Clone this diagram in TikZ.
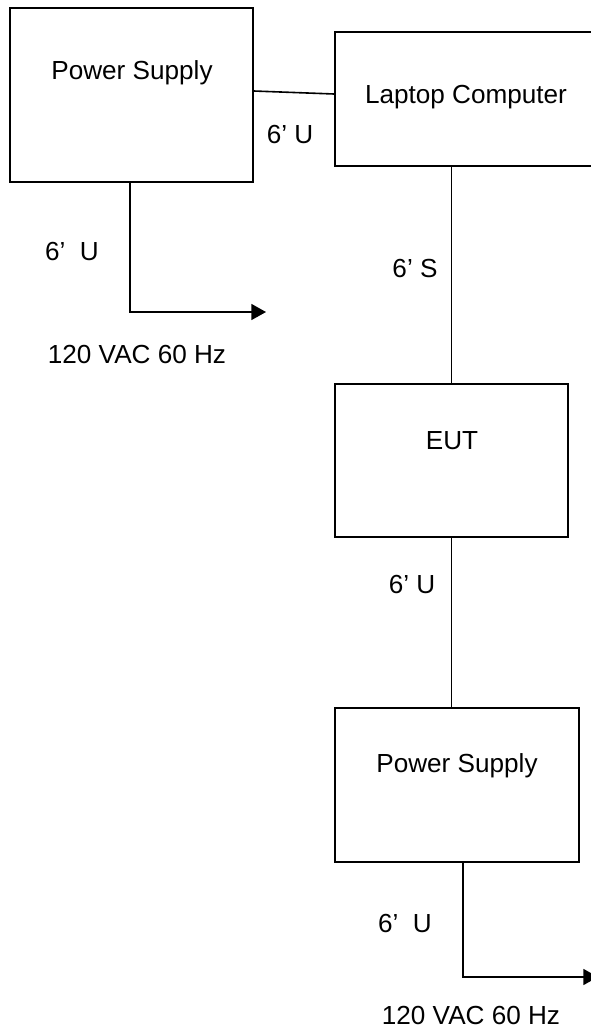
\documentclass[tikz,border=0pt]{standalone}
\usepackage{fontspec}
\setmainfont{Liberation Sans}
\usetikzlibrary{arrows.meta}

\tikzset{every picture/.style={line width=1.2pt}}
\tikzset{
  unitbox/.style={draw, rectangle, inner sep=0pt},
  txt/.style={inner sep=0.75pt, font=\fontsize{19.6}{23}\selectfont},
  feed/.style={-{Triangle[length=11pt,width=12pt]}}
}

\begin{document}
\begin{tikzpicture}[x=0.75pt,y=0.75pt,yscale=-1,xscale=1]
\useasboundingbox (0,0) rectangle (591,1029);

%Shape: Rectangle [id:ps1]
\node [unitbox, minimum width=182.25pt, minimum height=130.5pt] (ps1) at (131.5,95) {};
%Shape: Rectangle [id:lap]
\node [unitbox, minimum width=194.25pt, minimum height=100.5pt] (lap) at (464.5,99) {};
%Shape: Rectangle [id:eut]
\node [unitbox, minimum width=174.75pt, minimum height=114.75pt] (eut) at (451.5,460.5) {};
%Shape: Rectangle [id:ps2]
\node [unitbox, minimum width=183pt, minimum height=115.5pt] (ps2) at (457,785) {};

\coordinate (ac1) at (266,312);
\coordinate (ac2) at (598,977);

%Straight Lines [id:ps1-lap]
\draw ([yshift=-3pt]ps1.east) -- ([yshift=-3.75pt]lap.west);
%Straight Lines [id:lap-eut]
\draw (lap.south -| eut.north) -- (eut.north);
%Straight Lines [id:eut-ps2]
\draw (eut.south) -- (eut.south |- ps2.north);
%Straight Lines [id:ps1-ac]
\draw [feed] ([xshift=-1.1pt]ps1.south) |- (ac1);
%Straight Lines [id:ps2-ac]
\draw [feed] ([xshift=4.5pt]ps2.south) |- (ac2);

% Text Node
\node [txt] (ps1t) at (132,73) {Power Supply};
% Text Node
\node [txt] (lapt) at (466,97) {Laptop Computer};
% Text Node
\node [txt] (eutt) at (452,441) {EUT};
% Text Node
\node [txt] (ps2t) at (457,766) {Power Supply};
% Text Node
\node [txt] (c1) at (290,134) {6’ U};
% Text Node
\node [txt] (c2) at (72,251) {6’\ \ U};
% Text Node
\node [txt] (ac1t) at (137,354) {120 VAC 60 Hz};
% Text Node
\node [txt] (c3) at (415,268) {6’ S};
% Text Node
\node [txt] (c4) at (412,584) {6’ U};
% Text Node
\node [txt] (c5) at (405,923) {6’\ \ U};
% Text Node
\node [txt] (ac2t) at (471,1015) {120 VAC 60 Hz};

\end{tikzpicture}
\end{document}
